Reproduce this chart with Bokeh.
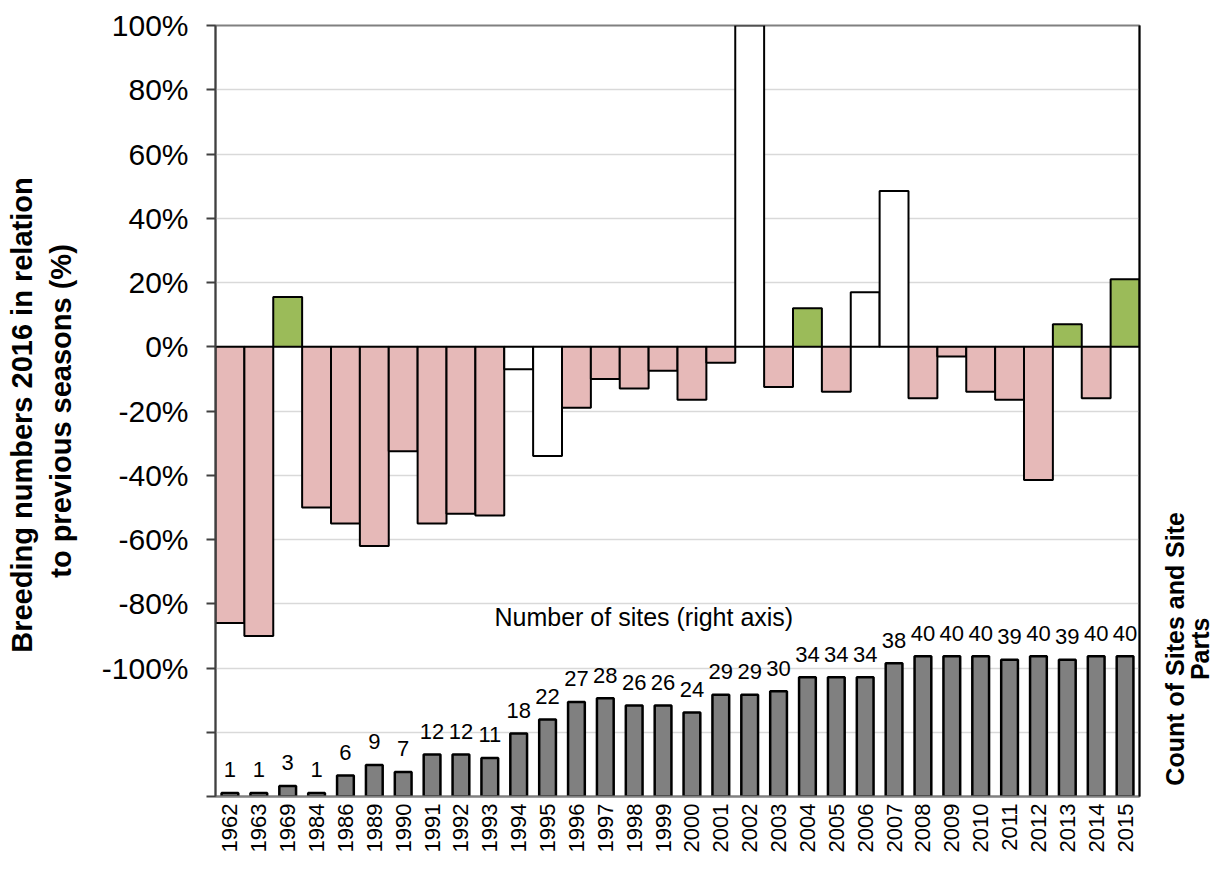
import math
from bokeh.plotting import figure
from bokeh.layouts import row
from bokeh.models import (ColumnDataSource, FactorRange, Range1d, LinearAxis,
                          FixedTicker, CustomJSTickFormatter, Label)
from bokeh.core.properties import value
from bokeh.embed import file_html
from bokeh.resources import INLINE

# Seasons compared with 2016
years = ["1962", "1963", "1969", "1984", "1986", "1989", "1990", "1991", "1992",
         "1993", "1994", "1995", "1996", "1997", "1998", "1999", "2000", "2001",
         "2002", "2003", "2004", "2005", "2006", "2007", "2008", "2009", "2010",
         "2011", "2012", "2013", "2014", "2015"]

# Breeding numbers 2016 relative to each season (%)
change_pct = [-86, -90, 15.5, -50, -55, -62, -32.5, -55, -52, -52.5, -7, -34,
              -19, -10, -13, -7.5, -16.5, -5, 125, -12.5, 12, -14, 17, 48.5,
              -16, -3, -14, -16.5, -41.5, 7, -16, 21]

# Whether the season is directly comparable (False -> drawn unfilled)
comparable = [True, True, True, True, True, True, True, True, True, True,
              False, False, True, True, True, True, True, True, False, True,
              True, True, False, False, True, True, True, True, True, True,
              True, True]

# Number of sites and site parts counted per season (right axis)
site_counts = [1, 1, 3, 1, 6, 9, 7, 12, 12, 11, 18, 22, 27, 28, 26, 26, 24, 29,
               29, 30, 34, 34, 34, 38, 40, 40, 40, 39, 40, 39, 40, 40]

left_ticks = [-140, -120, -100, -80, -60, -40, -20, 0, 20, 40, 60, 80, 100]

FONT = "Liberation Sans"
PINK = "#e6b9b8"
GREEN = "#9bbb59"
GREY = "#808080"


def bar_colour(v, ok):
    if not ok:
        return "white"
    return GREEN if v > 0 else PINK


src = ColumnDataSource(dict(
    year=years,
    change=change_pct,
    colour=[bar_colour(v, ok) for v, ok in zip(change_pct, comparable)],
    sites=site_counts,
    site_text=[str(c) for c in site_counts],
))

p = figure(frame_width=924, frame_height=771, x_range=FactorRange(*years),
           y_range=Range1d(-140, 100), output_backend="svg",
           toolbar_location=None, min_border_left=215, min_border_right=5,
           min_border_top=25, min_border_bottom=76)
p.extra_y_ranges = {"sites": Range1d(0, 220)}

p.outline_line_color = GREY
p.outline_line_width = 2
p.background_fill_color = "white"
p.border_fill_color = "white"

# gridlines every 20 %
p.xgrid.grid_line_color = None
p.ygrid.ticker = FixedTicker(ticks=left_ticks)
p.ygrid.grid_line_color = "#d9d9d9"
p.ygrid.grid_line_width = 1.5

# left axis (percent)
ya = p.yaxis[0]
ya.ticker = FixedTicker(ticks=left_ticks)
ya.formatter = CustomJSTickFormatter(
    code="return tick < -100 ? '' : tick.toFixed(0) + '%';")
ya.major_label_text_font = FONT
ya.major_label_text_font_size = "30px"
ya.major_label_text_color = "black"
ya.major_tick_out = 9
ya.major_tick_in = 0
ya.minor_tick_out = 0
ya.minor_tick_in = 0
ya.major_tick_line_color = "#404040"
ya.major_tick_line_width = 2
ya.axis_line_color = "#404040"
ya.axis_line_width = 2
ya.major_label_standoff = 18
ya.axis_label = "Breeding numbers  2016 in relation\nto previous seasons (%)"
ya.axis_label_text_font = FONT
ya.axis_label_text_font_style = "bold"
ya.axis_label_text_font_size = "29px"
ya.axis_label_text_color = "black"
ya.axis_label_standoff = 22

# bottom axis (seasons)
xa = p.xaxis[0]
xa.major_label_orientation = math.pi / 2
xa.major_label_text_font = FONT
xa.major_label_text_font_size = "22px"
xa.major_label_text_color = "black"
xa.major_tick_out = 0
xa.major_tick_in = 0
xa.axis_line_color = GREY
xa.axis_line_width = 2
xa.major_label_standoff = 7

# right axis (site counts), no tick labels
ra = LinearAxis(y_range_name="sites", ticker=FixedTicker(ticks=[]))
ra.axis_line_color = "black"
ra.axis_line_width = 2
ra.major_tick_out = 0
ra.major_tick_in = 0
ra.minor_tick_out = 0
ra.minor_tick_in = 0
ra.major_label_text_font_size = "0px"
p.add_layout(ra, "right")

# change bars
p.vbar(x="year", top="change", bottom=0, width=1.0, source=src,
       fill_color="colour", line_color="black", line_width=2)

# site count bars
p.vbar(x="year", top="sites", bottom=0, width=0.58, source=src,
       y_range_name="sites", fill_color=GREY, line_color="black",
       line_width=2.5)

p.text(x="year", y="sites", text="site_text", source=src,
       y_range_name="sites", text_align="center",
       text_baseline="alphabetic", y_offset=-23,
       text_font=value(FONT), text_font_size="22px", text_color="black")

p.add_layout(Label(x=279, y=180, x_units="screen", y_units="screen",
                   text="Number of sites (right axis)", text_font=FONT,
                   text_font_size="25px", text_color="black",
                   text_baseline="alphabetic"))

# right-hand axis title in its own narrow strip
side = figure(width=85, height=872, x_range=Range1d(0, 85),
              y_range=Range1d(0, 872), output_backend="svg",
              toolbar_location=None, min_border=0)
side.axis.visible = False
side.grid.visible = False
side.outline_line_color = None
side.background_fill_color = "white"
side.border_fill_color = "white"
side.add_layout(Label(x=43, y=167, text="Count of Sites and Site\nParts",
                      angle=math.pi / 2, text_align="center",
                      text_baseline="middle", text_font=FONT,
                      text_font_style="bold", text_font_size="25px",
                      text_line_height=0.9, text_color="black"))

layout = row(p, side, spacing=0)

open("out.html", "w").write(file_html(layout, INLINE))
